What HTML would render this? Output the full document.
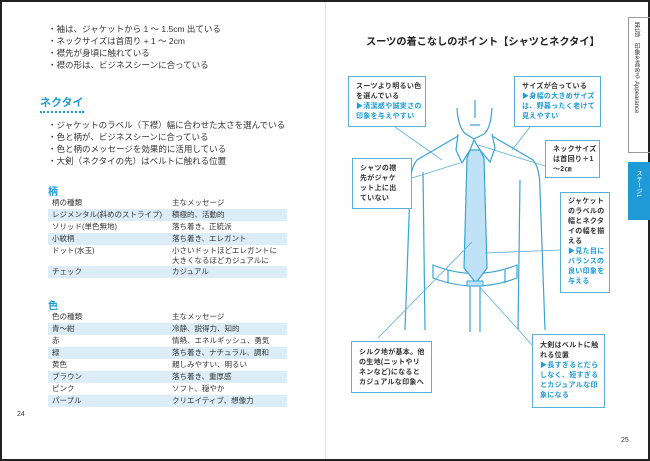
<!DOCTYPE html>
<html><head><meta charset="utf-8"><style>
body{margin:0;width:650px;height:461px;overflow:hidden;background:#fff;font-family:"Liberation Sans","Noto Sans CJK JP",sans-serif;}
.frame{position:absolute;left:0;top:0;width:646px;height:457px;border:2px solid #222;}
.t{position:absolute;font-size:8.5px;color:#333;white-space:nowrap;line-height:12px;}
.h{position:absolute;color:#1e9bd7;font-weight:bold;}
.row{position:absolute;left:48px;width:239px;height:12px;font-size:7.5px;color:#333;line-height:12px;}
.row span{position:absolute;left:4px}.row b{position:absolute;left:124px;font-weight:normal}
.hl{background:#dcedf8}
.box{position:absolute;border:1.2px solid #5ab0d8;background:#fff;font-size:7px;line-height:10px;font-weight:bold;color:#333;padding:5px 0 0 7px;box-sizing:border-box;white-space:nowrap;letter-spacing:0.3px}
.box i{font-style:normal;color:#1e9bd7}
</style></head><body>
<div class="frame"></div>
<div style="position:absolute;left:325px;top:2px;width:1px;height:457px;background:#ddd"></div>
<div class="t" style="left:48px;top:23px">・袖は、ジャケットから 1 ～ 1.5cm 出ている</div>
<div class="t" style="left:48px;top:35px">・ネックサイズは首周り + 1 ～ 2cm</div>
<div class="t" style="left:48px;top:47px">・襟先が身頃に触れている</div>
<div class="t" style="left:48px;top:59px">・襟の形は、ビジネスシーンに合っている</div>
<div class="h" style="left:40px;top:94px;font-size:11px;border-bottom:2px dotted #1e9bd7;padding-bottom:1px">ネクタイ</div>
<div class="t" style="left:48px;top:119px">・ジャケットのラベル（下襟）幅に合わせた太さを選んでいる</div>
<div class="t" style="left:48px;top:131px">・色と柄が、ビジネスシーンに合っている</div>
<div class="t" style="left:48px;top:143px">・色と柄のメッセージを効果的に活用している</div>
<div class="t" style="left:48px;top:155px">・大剣（ネクタイの先）はベルトに触れる位置</div>
<div class="h" style="left:48px;top:183px;font-size:10px">柄</div>
<div class="row" style="top:197px"><span>柄の種類</span><b>主なメッセージ</b></div>
<div class="row hl" style="top:209px"><span>レジメンタル(斜めのストライプ)</span><b>積極的、活動的</b></div>
<div class="row" style="top:221px"><span>ソリッド(単色無地)</span><b>落ち着き、正統派</b></div>
<div class="row hl" style="top:233px"><span>小紋柄</span><b>落ち着き、エレガント</b></div>
<div class="row" style="top:245px;height:21px;line-height:10px;padding-top:1px"><span>ドット(水玉)</span><b>小さいドットほどエレガントに<br>大きくなるほどカジュアルに</b></div>
<div class="row hl" style="top:266px"><span>チェック</span><b>カジュアル</b></div>
<div class="h" style="left:48px;top:297px;font-size:10px">色</div>
<div class="row" style="top:311px"><span>色の種類</span><b>主なメッセージ</b></div>
<div class="row hl" style="top:323px"><span>青～紺</span><b>冷静、説得力、知的</b></div>
<div class="row" style="top:335px"><span>赤</span><b>情熱、エネルギッシュ、勇気</b></div>
<div class="row hl" style="top:347px"><span>緑</span><b>落ち着き、ナチュラル、調和</b></div>
<div class="row" style="top:359px"><span>黄色</span><b>親しみやすい、明るい</b></div>
<div class="row hl" style="top:371px"><span>ブラウン</span><b>落ち着き、重厚感</b></div>
<div class="row" style="top:383px"><span>ピンク</span><b>ソフト、穏やか</b></div>
<div class="row hl" style="top:395px"><span>パープル</span><b>クリエイティブ、想像力</b></div>
<div class="t" style="left:17px;top:409px;font-size:7px">24</div>
<div class="t" style="left:621px;top:435px;font-size:7px">25</div>
<div class="t" style="left:366px;top:37px;font-size:10.2px;font-weight:bold;color:#222">スーツの着こなしのポイント【シャツとネクタイ】</div>
<div style="position:absolute;left:628px;top:17px;width:22px;height:136px;border:1px solid #999;border-right:none;box-sizing:border-box"></div>
<div style="position:absolute;left:632px;top:22px;font-size:6px;color:#333;writing-mode:vertical-rl">第1部　印象を高める Appearance</div>
<div style="position:absolute;left:628px;top:162px;width:22px;height:58px;background:#1e9bd7"></div>
<div style="position:absolute;left:634px;top:170px;font-size:6px;color:#fff;writing-mode:vertical-rl">ステージ1</div>
<svg style="position:absolute;left:0;top:0" width="650" height="461">
<g fill="none" stroke="#3aa3d6" stroke-width="1.2">
<path d="M457 108 Q458 128 466 134 L474 139 L484 134 Q491 128 492 108"/>
<path d="M475 100 L475 118 M470 125 L480 125"/>
<path d="M458 136 L417 160 Q410 168 410 190 L405 330 M492 136 L533 160 Q540 168 540 190 L545 330"/>
<path d="M423 172 L425 330 M520 180 L518 330"/>
<path d="M458 134 L456 150 L462 163 L470 150 L474 140 L480 150 L490 162 L495 148 L492 134"/>
<path d="M433 265 Q475 282 517 265 L517 278 Q475 294 433 278 Z"/>
<path d="M448 270 L448 283 M505 270 L505 283"/>
<path d="M470 285 L470 332 M480 285 L480 332"/>
</g>
<path d="M470 150 L480 150 L484 158 L487 268 L476 283 L464 268 L467 158 Z" fill="#bfe2f6" stroke="#3aa3d6" stroke-width="1.2"/>
<rect x="467" y="281" width="16" height="5" fill="#bfe2f6" stroke="#3aa3d6"/>
<g stroke="#5ab0d8" stroke-width="0.8">
<line x1="395" y1="127" x2="442" y2="160"/><line x1="530" y1="127" x2="512" y2="150"/>
<line x1="545" y1="166" x2="478" y2="145"/><line x1="412" y1="178" x2="460" y2="163"/>
<line x1="560" y1="250" x2="485" y2="253"/><line x1="378" y1="338" x2="472" y2="242"/>
<line x1="532" y1="345" x2="478" y2="285"/>
</g>
</svg>
<div class="box" style="left:348px;top:76px;width:78px;height:51px">スーツより明るい色<br>を選んでいる<br><i>▶清潔感や誠実さの<br>印象を与えやすい</i></div>
<div class="box" style="left:514px;top:76px;width:87px;height:51px">サイズが合っている<br><i>▶身幅の大きめサイズ<br>は、野暮ったく老けて<br>見えやすい</i></div>
<div class="box" style="left:545px;top:140px;width:55px;height:38px;padding-top:4px">ネックサイズ<br>は首回り＋1<br>～2㎝</div>
<div class="box" style="left:352px;top:158px;width:60px;height:51px;padding-top:5px">シャツの襟<br>先がジャケ<br>ット上に出<br>ていない</div>
<div class="box" style="left:560px;top:192px;width:50px;height:101px;padding-top:4px">ジャケット<br>のラベルの<br>幅とネクタ<br>イの幅を揃<br>える<br><i>▶見た目に<br>バランスの<br>良い印象を<br>与える</i></div>
<div class="box" style="left:351px;top:341px;width:81px;height:52px;padding-top:6px">シルク地が基本。他<br>の生地(ニットやリ<br>ネンなど)になると<br>カジュアルな印象へ</div>
<div class="box" style="left:532px;top:334px;width:73px;height:74px;padding-top:6px">大剣はベルトに触<br>れる位置<br><i>▶長すぎるとだら<br>しなく、短すぎる<br>とカジュアルな印<br>象になる</i></div>
</body></html>
